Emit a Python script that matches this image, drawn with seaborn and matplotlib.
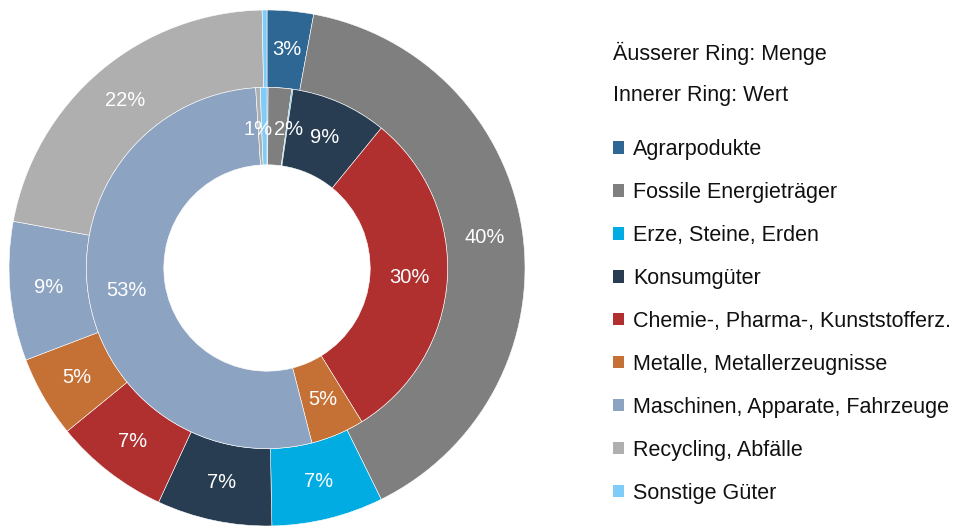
import matplotlib
matplotlib.use("Agg")
import matplotlib.pyplot as plt
from matplotlib.patches import Patch
import seaborn as sns

# categories and shares (percent)
categories = ["Agrarpodukte", "Fossile Energieträger", "Erze, Steine, Erden", "Konsumgüter",
              "Chemie-, Pharma-, Kunststofferz.", "Metalle, Metallerzeugnisse",
              "Maschinen, Apparate, Fahrzeuge", "Recycling, Abfälle", "Sonstige Güter"]
menge = [2.9, 39.8, 7.0, 7.2, 7.2, 5.1, 8.7, 21.8, 0.3]   # outer ring
wert = [0.1, 2.1, 0.1, 8.6, 30.3, 4.8, 53.0, 0.4, 0.6]    # inner ring
colors = ["#2E6694", "#7F7F7F", "#00ACE2", "#283D52", "#B03030",
          "#C57035", "#8CA3C1", "#AFAFAF", "#80CCF8"]

sns.set_theme(style="white")
plt.rcParams["font.family"] = ["Liberation Sans", "DejaVu Sans"]
palette = sns.color_palette(colors)

fig = plt.figure(figsize=(9.7, 5.27), dpi=100)
ax = fig.add_axes([9 / 970, 1 / 527, 516 / 970, 516 / 527])


def pct_label(p):
    return f"{p:.0f}%" if p >= 0.5 else ""


wedge_kw = dict(width=0.3, edgecolor="white", linewidth=0.4)
text_kw = dict(color="white", fontsize=14.5)

ax.pie(menge, radius=1.0, colors=palette, startangle=90, counterclock=False,
       autopct=pct_label, pctdistance=0.85, wedgeprops=wedge_kw, textprops=text_kw)
_, _, inner_txt = ax.pie(wert, radius=0.7, colors=palette, startangle=90, counterclock=False,
                         autopct=pct_label, pctdistance=0.79, wedgeprops=wedge_kw,
                         textprops=text_kw)

# the two tiny slices at the top: put their labels side by side
for t in inner_txt:
    x, y = t.get_position()
    if t.get_text() and abs(x) < 0.06:
        t.set_position((0.085 if x > 0 else -0.035, 0.535))

ax.set_xlim(-1, 1)
ax.set_ylim(-1, 1)
ax.set_aspect("equal")
ax.axis("off")

fs = 15.5
fig.text(613 / 970, 1 - 53 / 527, "Äusserer Ring: Menge", fontsize=fs, va="center", color="#111111")
fig.text(613 / 970, 1 - 96 / 527, "Innerer Ring: Wert", fontsize=fs, va="center", color="#111111")

handles = [Patch(facecolor=c, edgecolor="none") for c in palette]
fig.legend(handles, categories, loc="upper left", bbox_to_anchor=(613 / 970, 1 - 139 / 527),
           frameon=False, fontsize=fs, handlelength=0.52, handleheight=0.52,
           handletextpad=0.42, labelspacing=1.02, borderaxespad=0, borderpad=0,
           labelcolor="#111111")

fig.savefig("out.png", dpi=100)
